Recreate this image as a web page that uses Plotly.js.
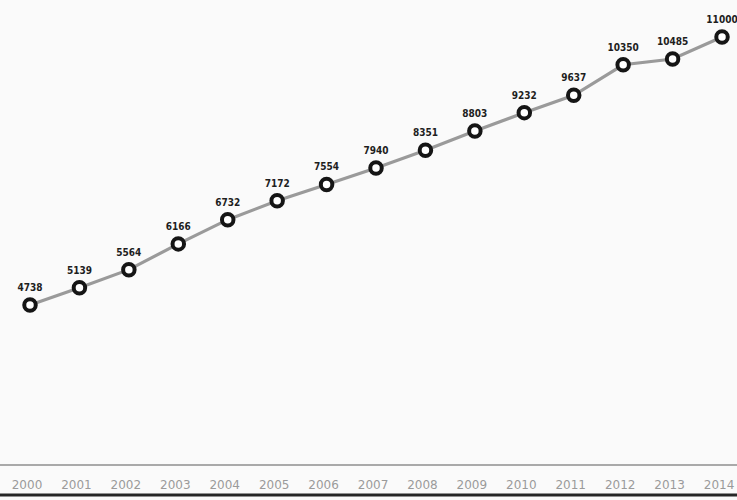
<!DOCTYPE html>
<html>
<head>
<meta charset="utf-8">
<script src="https://cdn.plot.ly/plotly-3.0.1.min.js"></script>
<style>html,body{margin:0;padding:0;background:#fafafa;}#chart{width:737px;height:500px;}</style>
</head>
<body>
<div id="chart"></div>
<script>
const years = [2000, 2001, 2002, 2003, 2004, 2005, 2006, 2007, 2008, 2009, 2010, 2011, 2012, 2013, 2014];
const values = [4738, 5139, 5564, 6166, 6732, 7172, 7554, 7940, 8351, 8803, 9232, 9637, 10350, 10485, 11000];
const tickLabels = years.map(String);

const lineTrace = {
  x: years,
  y: values,
  type: 'scatter',
  mode: 'lines+markers',
  line: {color: '#9a9a9a', width: 3.2},
  marker: {symbol: 'circle', size: 11.5, color: '#ffffff', line: {color: '#151515', width: 4}},
  cliponaxis: false,
  hoverinfo: 'skip'
};

const labelTrace = {
  x: years,
  y: values,
  type: 'scatter',
  mode: 'markers+text',
  text: values.map(String),
  textposition: 'top center',
  textfont: {family: 'DejaVu Sans Condensed, DejaVu Sans', size: 10, color: '#1e1e1e', weight: 'bold'},
  marker: {size: 17, opacity: 0},
  cliponaxis: false,
  hoverinfo: 'skip'
};

const layout = {
  width: 737,
  height: 500,
  margin: {l: 0, r: 0, t: 0, b: 36},
  paper_bgcolor: '#fafafa',
  plot_bgcolor: '#fafafa',
  showlegend: false,
  xaxis: {
    range: [1999.393, 2014.303],
    tickvals: years,
    ticktext: tickLabels,
    showgrid: false,
    zeroline: false,
    showline: true,
    linecolor: '#a9a9a9',
    linewidth: 2,
    ticks: '',
    ticklabelstandoff: 9,
    ticklabelshift: -3,
    tickfont: {family: 'DejaVu Sans', size: 12, color: '#9a9a9a'}
  },
  yaxis: {
    range: [1024, 11863],
    showgrid: false,
    zeroline: false,
    showline: false,
    showticklabels: false,
    ticks: ''
  },
  shapes: [
    {type: 'line', xref: 'paper', yref: 'paper', x0: 0, x1: 1, y0: -0.0668, y1: -0.0668,
     line: {color: '#262626', width: 3}}
  ]
};

Plotly.newPlot('chart', [lineTrace, labelTrace], layout, {displayModeBar: false, staticPlot: true});
</script>
</body>
</html>
